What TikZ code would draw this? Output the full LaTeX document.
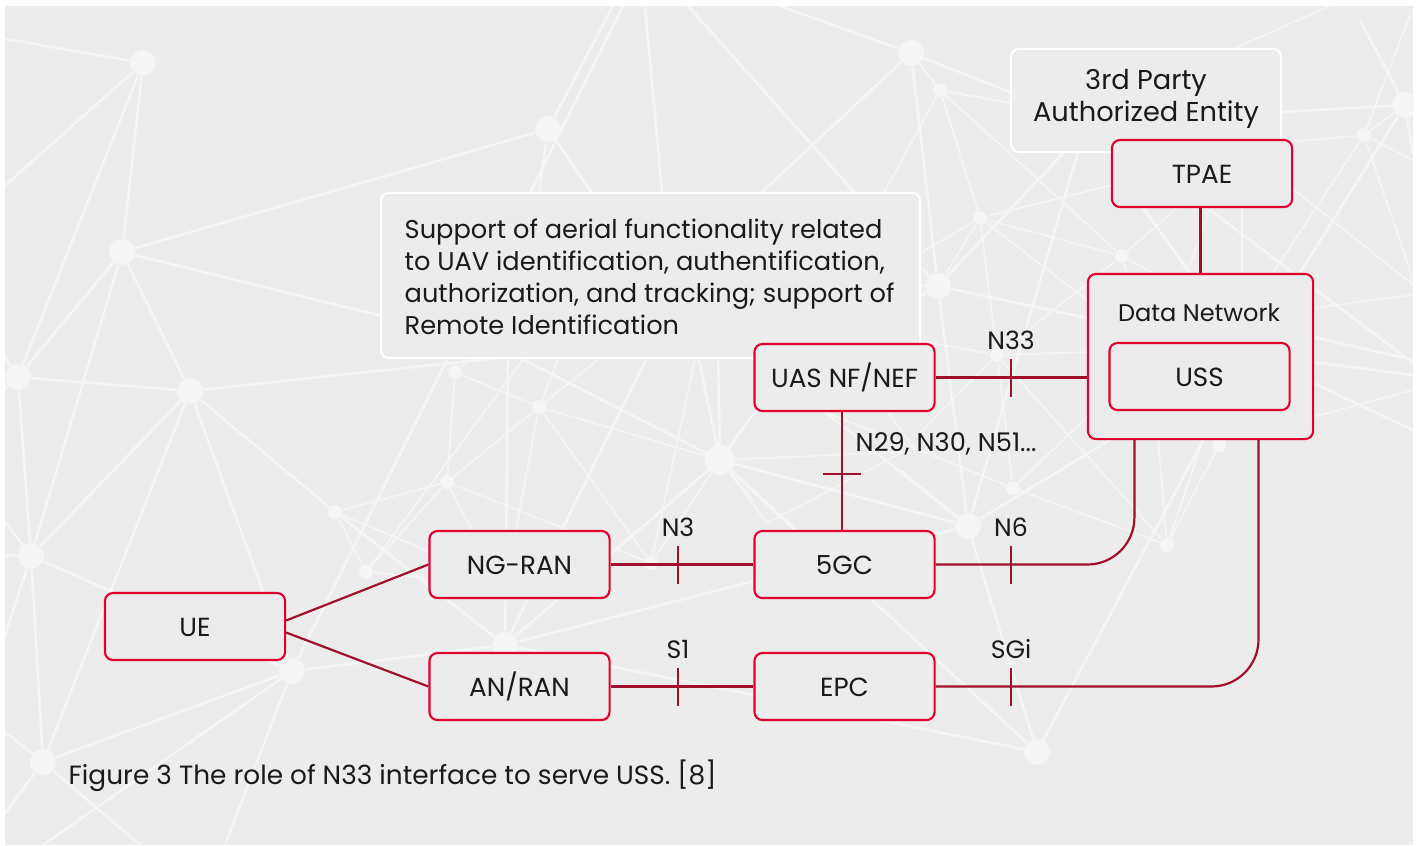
\documentclass[tikz,border=0pt]{standalone}
\usepackage{fontspec}
\setmainfont{Poppins}
\definecolor{panelgrey}{HTML}{ECECEC}
\definecolor{webgrey}{HTML}{F5F5F5}
\definecolor{boxred}{HTML}{E2002D}
\definecolor{linkred}{HTML}{A00F2B}
\definecolor{inkblack}{HTML}{1A1A1A}
\newcommand{\sizedfont}[1]{\fontsize{#1}{9.1}\selectfont}
\tikzset{
    webnode/.style={circle,fill=webgrey,inner sep=0pt,minimum size=0.26cm},
    websmall/.style={circle,fill=webgrey,inner sep=0pt,minimum size=0.14cm},
    webthick/.style={webgrey,line width=0.75pt},
    webthin/.style={webgrey,line width=0.45pt},
    netbox/.style={draw=boxred,fill=panelgrey,line width=0.6pt,rounded corners=0.08cm,
        minimum width=1.8cm,minimum height=0.67cm,inner sep=0pt,text=inkblack,
        font=\sizedfont{7.45},text height=0.19cm,text depth=0cm},
    notebox/.style={draw=white,fill=panelgrey,line width=0.55pt,rounded corners=0.08cm,inner sep=0pt},
    plaintext/.style={text=inkblack,inner sep=0pt},
    link/.style={draw=linkred,line width=0.62pt}
}
\begin{document}
\begin{tikzpicture}[x=0.01cm,y=-0.01cm]
    \useasboundingbox (0,0) rectangle (1416,845);
    \fill[white] (0,0) rectangle (1416,845);
    \fill[panelgrey] (5,6) rectangle (1413,845);

    % background web
    \begin{scope}
        \clip (5,6) rectangle (1413,845);
        \foreach \name/\px/\py in {a/143/63,b/548/129,c/911/53,e/1405/105,i/938/286,j/122/252,
                k/18/377,l/190/391,o/720/460,r/31/556,t/505/645,v/968/526,aa/292/671,bb/43/762,cc/1037/752}
            \node[webnode] (\name) at (\px,\py) {};
        \node[webnode,minimum size=0.3cm] at (720,460) {};
        \foreach \name/\px/\py in {d/940/90,f/1364/135,g/980/218,h/1122/256,m/455/372,n/539/407,
                p/447/482,q/335/512,s/366/572,u/651/563,w/1013/488,x/1167/545,y/1219/445,z/997/355}
            \node[websmall] (\name) at (\px,\py) {};

        \draw[webthick] (a) -- (0,38) (a) -- (0,190) (a) -- (j) (a) -- (k)
            (j) -- (b) (j) -- (k) (j) -- (r) (j) -- (l) (j) -- (500,345)
            (k) -- (l) (k) -- (r) (k) -- (0,350) (k) -- (0,392)
            (l) -- (600,347) (l) -- (r) (l) -- (bb) (l) -- (aa) (l) -- (q)
            (r) -- (aa) (r) -- (bb) (r) -- (0,515) (r) -- (0,555) (r) -- (0,650)
            (bb) -- (aa) (bb) -- (0,728) (bb) -- (0,820) (bb) -- (140,845)
            (aa) -- (43,845) (aa) -- (225,845) (aa) -- (t) (aa) -- (623,6)
            (b) -- (613,6) (b) -- (538,200) (b) -- (597,200)
            (645,6) -- (672,300) (688,6) -- (i)
            (780,6) -- (c) (c) -- (700,250) (c) -- (i) (c) -- (1030,100)
            (q) -- (t) (t) -- (508,350) (t) -- (o) (t) -- (v) (t) -- (cc) (t) -- (700,250)
            (520,358) -- (o) (o) -- (697,350) (o) -- (718,350) (o) -- (v) (o) -- (cc)
            (o) -- (760,405) (o) -- (795,530)
            (i) -- (1085,130) (i) -- (v) (i) -- (1087,318) (i) -- (905,285) (i) -- (905,305)
            (v) -- (cc) (v) -- (1080,145) (v) -- (1110,440) (v) -- (900,470)
            (825,412) -- (v)
            (cc) -- (1203,440)
            (1143,208) -- (1190,273) (1210,210) -- (1413,363)
            (1300,273) -- (e) (1282,112) -- (e) (e) -- (1360,20) (e) -- (1413,155)
            (1313,362) -- (1413,375) (1313,337) -- (1413,360) (1313,383) -- (1413,430);

        \draw[webthin] (d) -- (c) (d) -- (1015,104) (d) -- (880,200) (d) -- (g) (d) -- (h)
            (g) -- (905,262) (g) -- (1112,185) (g) -- (h) (g) -- (1087,300) (g) -- (i) (g) -- (z)
            (h) -- (z) (h) -- (1177,208) (h) -- (1153,273) (h) -- (1127,274)
            (1210,208) -- (1187,273) (1242,208) -- (1242,273)
            (1292,188) -- (1413,285)
            (f) -- (e) (f) -- (1290,142) (f) -- (1273,273) (f) -- (1413,280) (f) -- (1413,160) (f) -- (1410,15)
            (1233,49) -- (1330,6)
            (1313,308) -- (1413,295) (1313,417) -- (1413,390)
            (z) -- (905,338) (z) -- (1087,352) (z) -- (920,433) (z) -- (x) (z) -- (w)
            (w) -- (1087,417) (w) -- (x) (825,412) -- (w) (888,412) -- (915,450)
            (x) -- (1158,440) (x) -- (1203,440) (x) -- (y)
            (767,523) -- (903,452) (767,523) -- (o) (u) -- (697,350) (o) -- (903,452)
            (m) -- (n) (m) -- (p) (m) -- (480,350)
            (n) -- (p) (n) -- (o) (n) -- (u) (n) -- (516,530) (n) -- (562,350) (n) -- (610,350)
            (p) -- (s) (p) -- (q) (p) -- (u) (p) -- (472,530)
            (q) -- (s) (q) -- (450,560) (s) -- (530,350) (s) -- (425,578)
            (o) -- (u) (o) -- (753,500);
    \end{scope}

    % white notes
    \node[notebox,minimum width=5.39cm,minimum height=1.65cm] (aerial) at (650.5,275.5) {};
    \node[plaintext,font=\sizedfont{7.3},align=left,anchor=west] (aerialtext) at (404,276.5)
        {Support of aerial functionality related\\to UAV identification, authentification,\\authorization, and tracking; support of\\Remote Identification};
    \node[notebox,minimum width=2.7cm,minimum height=1.03cm] (party) at (1146,100.5) {};
    \node[plaintext,font=\sizedfont{7.75},align=center] (partytext) at (1146,98.5)
        {3rd Party\\Authorized Entity};

    % network boxes
    \node[netbox] (ue) at (195,626.5) {UE};
    \node[netbox] (ngran) at (519.5,564.5) {NG-RAN};
    \node[netbox] (anran) at (519.5,686.5) {AN/RAN};
    \node[netbox] (fivegc) at (844.5,564.5) {5GC};
    \node[netbox] (epc) at (844.5,686.5) {EPC};
    \node[netbox] (uas) at (844.5,377.5) {UAS NF/NEF};
    \node[netbox] (tpae) at (1202,173.5) {TPAE};
    \node[netbox,minimum width=2.25cm,minimum height=1.65cm] (dn) at (1200.5,356.5) {};
    \node[plaintext,font=\sizedfont{6.85}] (dntext) at (1199,313) {Data Network};
    \node[netbox] (uss) at (1199.5,376.5) {USS};

    % connectors
    \draw[link] ([yshift=0.06cm]ue.east) -- (ngran.west);
    \draw[link] ([yshift=-0.06cm]ue.east) -- (anran.west);
    \draw[link] (ngran.east) -- (fivegc.west);
    \draw[link] (anran.east) -- (epc.west);
    \draw[link] ([xshift=-0.025cm]fivegc.north) -- ([xshift=-0.025cm]uas.south);
    \draw[link] (uas.east) -- (uas.east -| dn.west);
    \draw[link] (dn.north |- tpae.south) -- (dn.north);
    \draw[link,rounded corners=0.47cm] (fivegc.east) -| ([xshift=0.475cm]dn.south west);
    \draw[link,rounded corners=0.47cm] (epc.east) -| ([xshift=1.715cm]dn.south west);

    % interface ticks
    \foreach \name/\px/\py/\txt in {nthree/678/565/N3,sone/678/687/S1,nsix/1011/565/N6,
            sgi/1011/687/SGi,nthirtythree/1011/378/N33} {
        \coordinate (\name top) at (\px,\py-19);
        \coordinate (\name bot) at (\px,\py+19);
        \draw[link] (\name top) -- (\name bot);
        \node[plaintext,font=\sizedfont{7.15}] (\name) at (\px,\py-38) {\txt};
    }
    \coordinate (nleft) at (823,474);
    \coordinate (nright) at (861,474);
    \draw[link] (nleft) -- (nright);
    \node[plaintext,font=\sizedfont{7.3},anchor=west] (nmany) at (855,444) {N29, N30, N51...};

    \node[plaintext,font=\sizedfont{7.5},anchor=west] (caption) at (68,776)
        {Figure 3 The role of N33 interface to serve USS. [8]};
\end{tikzpicture}
\end{document}
